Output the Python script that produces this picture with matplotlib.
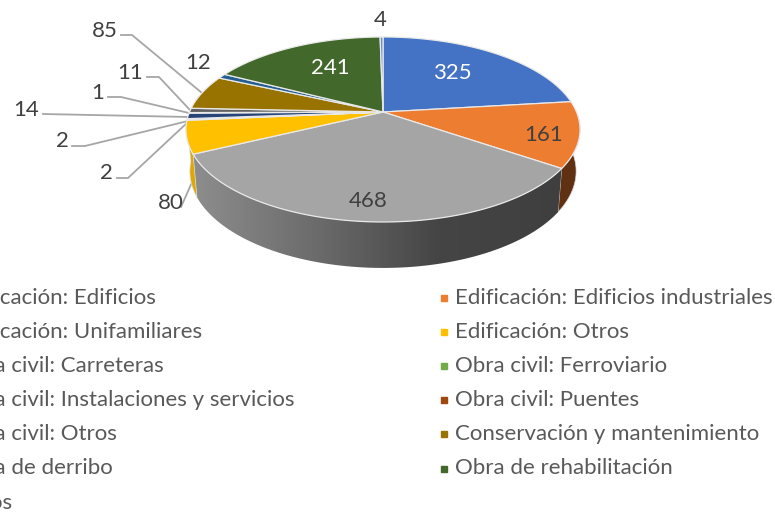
import numpy as np
import matplotlib
matplotlib.use("Agg")
import matplotlib.pyplot as plt
from matplotlib.colors import LinearSegmentedColormap
from matplotlib.patches import Polygon

categories = ["Edificación: Edificios", "Edificación: Edificios industriales",
              "Edificación: Unifamiliares", "Edificación: Otros",
              "Obra civil: Carreteras", "Obra civil: Ferroviario",
              "Obra civil: Instalaciones y servicios", "Obra civil: Puentes",
              "Obra civil: Otros", "Conservación y mantenimiento",
              "Obra de derribo", "Obra de rehabilitación", "Otros"]
values = [325, 161, 468, 80, 2, 2, 14, 1, 11, 85, 12, 241, 4]
colors = ["#4472C4", "#ED7D31", "#A5A5A5", "#FFC000", "#5B9BD5", "#70AD47", "#264478",
          "#9E480E", "#636363", "#997300", "#255E91", "#43682B", "#698ED0"]
wall_colors = {1: "#5f3011", 3: "#dfa800"}
white_labels = [0, 11]

# label x, y and optional leader line for every slice
label_pos = [(452, 72), (544, 134), (368, 200), (171, 202), (106, 172), (62, 140), (26, 109),
             (98, 92), (130, 72), (105, 30), (198, 62), (330, 67), (380, 19)]
leaders = {3: [(181, 207), (193, 180)],
           4: [(117, 178), (128, 178), (188, 122)],
           5: [(72, 146), (85, 146), (188, 121)],
           6: [(43, 114), (189, 117)],
           7: [(108, 97), (121, 97), (189, 113)],
           8: [(147, 77), (159, 77), (190, 110)],
           9: [(121, 35), (132, 35), (202, 93)]}

plt.rcParams["font.family"] = ["Lato", "DejaVu Sans"]
fig = plt.figure(figsize=(7.75, 5.14), dpi=100)
ax = fig.add_axes([0, 0, 1, 1])
ax.set_xlim(0, 775)
ax.set_ylim(514, 0)
ax.axis("off")

cx, cy = 383, 112


def top_face(theta):
    # perspective view of the unit circle, theta clockwise from the top
    u, v = np.sin(theta), np.cos(theta)
    d = 1 + 0.189 * v
    return cx + 193.5 * u / d, cy - 89.2 * v / d


def bottom_face(theta):
    x, y = top_face(theta)
    return cx + 0.98 * (x - cx), cy + 1.045 * (y - cy) + 41


edges = np.radians(np.concatenate([[0], np.cumsum(values)]) / sum(values) * 360)

# side walls, only the part facing the viewer
gray_cmap = LinearSegmentedColormap.from_list("wall", ["#8e8e8e", "#6c6c6c", "#454545", "#3f3f3f"])
for i in [1, 2, 3]:
    a, b = max(edges[i], np.pi / 2), min(edges[i + 1], 3 * np.pi / 2)
    t = np.linspace(a, b, 120)
    xt, yt = top_face(t)
    xb, yb = bottom_face(t[::-1])
    pts = np.column_stack([np.r_[xt, xb], np.r_[yt, yb]])
    if i == 2:
        poly = Polygon(pts, closed=True, facecolor="none", edgecolor="none", zorder=2)
        ax.add_patch(poly)
        im = ax.imshow(np.linspace(0, 1, 256).reshape(1, -1), cmap=gray_cmap, aspect="auto",
                       extent=(190, 562, 280, 150), zorder=2)
        im.set_clip_path(poly)
    else:
        ax.add_patch(Polygon(pts, closed=True, facecolor=wall_colors[i],
                             edgecolor="#d8d8d8", lw=0.5, zorder=2))
ax.set_xlim(0, 775)
ax.set_ylim(514, 0)

# top of the pie
for i in range(len(values)):
    t = np.linspace(edges[i], edges[i + 1], 100)
    xs, ys = top_face(t)
    pts = np.column_stack([np.r_[cx, xs], np.r_[cy, ys]])
    ax.add_patch(Polygon(pts, closed=True, facecolor=colors[i], edgecolor="#e9e9e9",
                         lw=0.9, joinstyle="round", zorder=3))

for pts in leaders.values():
    pts = np.array(pts)
    ax.plot(pts[:, 0], pts[:, 1], color="#a6a6a6", lw=1.3, zorder=1)

for i, (x, y) in enumerate(label_pos):
    ax.text(x, y + 1, str(values[i]), ha="center", va="center", fontsize=16,
            color="white" if i in white_labels else "#404040", zorder=5)

# legend, two columns, the left one runs off the canvas
for i, name in enumerate(categories):
    col, row = i % 2, i // 2
    x = -44 if col == 0 else 455
    y = 298 + 34.1 * row
    ax.plot(x - 11, y, marker="s", ms=5, color=colors[i], clip_on=True, zorder=4)
    ax.text(x, y, name, ha="left", va="center", fontsize=16, color="#595959", zorder=5)

fig.savefig("out.png", dpi=100)
